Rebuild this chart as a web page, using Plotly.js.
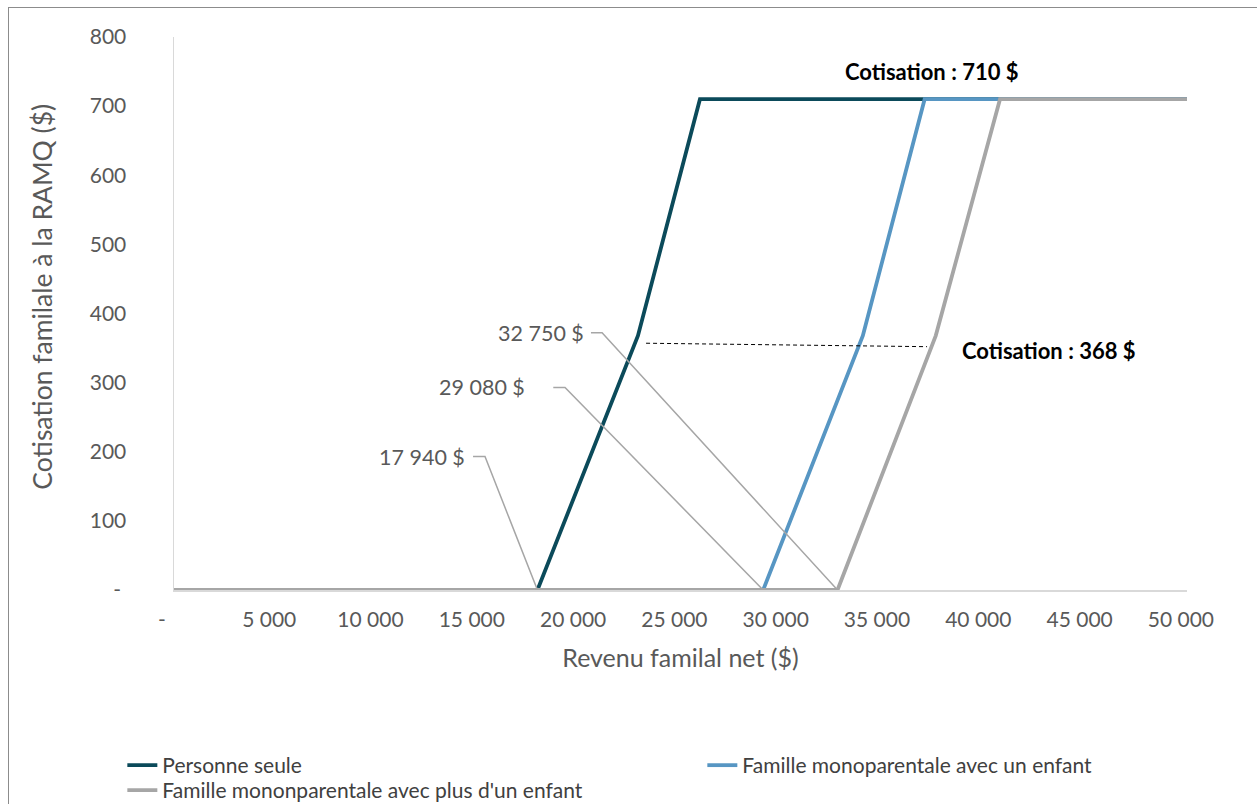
<!DOCTYPE html>
<html><head><meta charset="utf-8">
<script src="https://cdn.plot.ly/plotly-3.0.1.min.js"></script>
<style>
html,body{margin:0;padding:0;background:#fff;overflow:hidden;}
#wrap{position:relative;width:1257px;height:804px;}
#chart{width:1257px;height:804px;}
#frame{position:absolute;left:8px;top:7px;width:1260px;height:810px;border:1.5px solid #8c8c8c;pointer-events:none;}
</style></head>
<body><div id="wrap"><div id="chart"></div><div id="frame"></div></div>
<script>
// Data
const seriesNames = ["Personne seule", "Famille monoparentale avec un enfant", "Famille mononparentale avec plus d'un enfant"];
const incomeSeule = [0, 17940, 22900, 25960, 50000];
const cotisSeule  = [0, 0, 368, 710, 710];
const incomeUnEnfant = [0, 29080, 34000, 37050, 50000];
const cotisUnEnfant  = [0, 0, 368, 710, 710];
const incomePlus = [0, 32750, 37600, 40770, 50000];
const cotisPlus  = [0, 0, 368, 710, 710];
const xTickVals = [0, 5000, 10000, 15000, 20000, 25000, 30000, 35000, 40000, 45000, 50000];
const xTickText = ["-", "5 000", "10 000", "15 000", "20 000", "25 000", "30 000", "35 000", "40 000", "45 000", "50 000"];
const yTickVals = [0, 100, 200, 300, 400, 500, 600, 700, 800];
const yTickText = ["-", "100", "200", "300", "400", "500", "600", "700", "800"];
// threshold labels: text, label anchor (x,y), elbow x, target income
const thrText = ["32 750 $", "29 080 $", "17 940 $"];
const thrLabelX = [20340, 17430, 14460];
const thrLabelY = [372, 293, 193];
const thrElbowX0 = [20580, 18720, 14760];
const thrElbowX1 = [21130, 19300, 15350];
const thrTarget = [32750, 29080, 17940];
// dashed reference line (368 $ level)
const dashX = [23300, 37170];
const dashY = [357, 352];

const colors = ["#0b4a5a", "#5796c3", "#a6a6a6"];
const font = "Lato, 'Open Sans', sans-serif";
// Excel-style trailing padding on tick labels
const FS = "\u2007";
const xTickDisp = xTickText.map(t => t === "-" ? "-" + FS + FS : t + FS);
const yTickDisp = yTickText.map(t => t === "-" ? "-\u2009\u2009" : t);

const traces = [
  {x: incomeSeule, y: cotisSeule, name: seriesNames[0], mode: "lines", line: {color: colors[0], width: 3.8}, legend: "legend"},
  {x: incomeUnEnfant, y: cotisUnEnfant, name: seriesNames[1], mode: "lines", line: {color: colors[1], width: 3.8}, legend: "legend"},
  {x: incomePlus, y: cotisPlus, name: seriesNames[2], mode: "lines", line: {color: colors[2], width: 3.8}, legend: "legend2"}
];

const shapes = [];
const annotations = [];
for (let i = 0; i < thrText.length; i++) {
  shapes.push({type: "path", xref: "x", yref: "y",
    path: `M ${thrElbowX0[i]},${thrLabelY[i]} L ${thrElbowX1[i]},${thrLabelY[i]} L ${thrTarget[i]},0`,
    line: {color: "#a6a6a6", width: 1.5}, layer: "above"});
  annotations.push({x: thrLabelX[i], y: thrLabelY[i], xref: "x", yref: "y", text: thrText[i],
    showarrow: false, xanchor: "right", yanchor: "middle", font: {family: font, size: 21.5, color: "#595959"}});
}
shapes.push({type: "line", xref: "x", yref: "y", x0: dashX[0], y0: dashY[0], x1: dashX[1], y1: dashY[1],
  line: {color: "#000", width: 1, dash: "4px,3px"}});
annotations.push({x: 37410, y: 750, xref: "x", yref: "y", text: "<b>Cotisation : 710 $</b>", showarrow: false,
  xanchor: "center", yanchor: "middle", font: {family: font, size: 22, color: "#000"}});
annotations.push({x: 38780, y: 346, xref: "x", yref: "y", text: "<b>Cotisation : 368 $</b>", showarrow: false,
  xanchor: "left", yanchor: "middle", font: {family: font, size: 22, color: "#000"}});
// y-axis title (placed like the original)
annotations.push({x: -0.13, y: 0.531, xref: "paper", yref: "paper", text: "Cotisation familale à la RAMQ ($)",
  textangle: -90, showarrow: false, xanchor: "center", yanchor: "middle",
  font: {family: font, size: 26.5, color: "#595959"}});

const legendFont = {family: font, size: 21, color: "#404040"};
const layout = {
  width: 1257, height: 804,
  margin: {l: 174, r: 70, t: 37, b: 214, autoexpand: false},
  paper_bgcolor: "#fff", plot_bgcolor: "#fff",
  showlegend: true,
  legend: {orientation: "h", x: -0.051, y: -0.2803, xanchor: "left", yanchor: "top", bgcolor: "rgba(0,0,0,0)",
    entrywidth: 535, entrywidthmode: "pixels", traceorder: "normal", tracegroupgap: 0, font: legendFont},
  legend2: {orientation: "h", x: -0.051, y: -0.3255, xanchor: "left", yanchor: "top", bgcolor: "rgba(0,0,0,0)",
    traceorder: "normal", tracegroupgap: 0, font: legendFont},
  xaxis: {range: [0, 50000], tickvals: xTickVals, ticktext: xTickDisp, showgrid: false, zeroline: false,
    automargin: false,
    showline: true, linecolor: "#d9d9d9", linewidth: 1.5, ticks: "", ticklabelstandoff: 10,
    tickfont: {family: font, size: 21, color: "#595959"},
    title: {text: "Revenu familal net ($)", font: {family: font, size: 25, color: "#595959"}, standoff: 20}},
  yaxis: {range: [0, 800], tickvals: yTickVals, ticktext: yTickDisp, showgrid: false, zeroline: false,
    automargin: false,
    showline: true, linecolor: "#d9d9d9", linewidth: 1.5, ticks: "", ticklabelstandoff: 42,
    tickfont: {family: font, size: 21, color: "#595959"}},
  shapes: shapes,
  annotations: annotations
};
Plotly.newPlot("chart", traces, layout, {displayModeBar: false, staticPlot: true});
</script></body></html>
